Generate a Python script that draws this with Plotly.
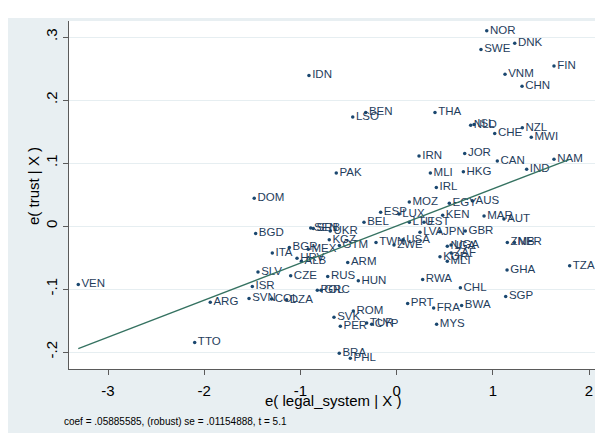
import plotly.graph_objects as go

countries = ["NOR","DNK","SWE","FIN","VNM","CHN","IDN","LSO","BEN","THA",
             "NLD","ISL","CHE","NZL","MWI","IRN","JOR","CAN","IND","NAM",
             "PAK","MLI","HKG","IRL","DOM","MOZ","EGY","AUS","ESP","LUX",
             "BEL","LTU","EST","KEN","MAR","AUT","BGD","SEN","SRB","UKR",
             "KGZ","LVA","JPN","GBR","TWN","USA","ZWE","NGA","UGA","ZMB",
             "NER","KOR","ZAF","MLT","BGR","MEX","ITA","HRV","ALB","GTM",
             "ARM","GHA","TZA","SLV","CZE","RUS","HUN","RWA","VEN","ISR",
             "POL","GRC","CHL","SGP","ARG","SVN","COL","DZA","PRT","FRA",
             "BWA","ROM","SVK","TUR","CYP","PER","MYS","TTO","BRA","PHL"]

e_legal = [0.937,1.228,0.877,1.636,1.127,1.304,-0.911,-0.456,-0.321,0.399,
           0.770,0.805,1.020,1.307,1.400,0.233,0.708,1.047,1.352,1.636,
           -0.627,0.351,0.694,0.413,-1.480,0.132,0.548,0.787,-0.166,0.025,
           -0.339,0.132,0.285,0.479,0.909,1.116,-1.465,-0.893,-0.866,-0.690,
           -0.700,0.243,0.450,0.714,-0.214,0.067,-0.027,0.527,0.566,1.151,
           1.225,0.451,0.567,0.527,-1.115,-0.918,-1.292,-1.035,-0.990,-0.595,
           -0.508,1.148,1.799,-1.441,-1.101,-0.716,-0.398,0.271,-3.309,-1.500,
           -0.824,-0.786,0.663,1.134,-1.937,-1.534,-1.300,-1.143,0.115,0.385,
           0.676,-0.450,-0.651,-0.311,-0.259,-0.585,0.416,-2.099,-0.596,-0.481]

e_trust = [0.310,0.290,0.280,0.254,0.241,0.222,0.239,0.173,0.180,0.180,
           0.160,0.161,0.147,0.156,0.141,0.111,0.115,0.103,0.090,0.106,
           0.084,0.084,0.086,0.061,0.044,0.038,0.036,0.040,0.022,0.019,
           0.006,0.006,0.006,0.017,0.016,0.011,-0.012,-0.003,-0.004,-0.008,
           -0.022,-0.010,-0.009,-0.008,-0.026,-0.022,-0.030,-0.032,-0.030,-0.026,
           -0.026,-0.049,-0.043,-0.056,-0.034,-0.037,-0.043,-0.051,-0.056,-0.031,
           -0.058,-0.070,-0.063,-0.073,-0.079,-0.080,-0.087,-0.085,-0.093,-0.096,
           -0.102,-0.102,-0.098,-0.112,-0.121,-0.115,-0.116,-0.117,-0.123,-0.130,
           -0.126,-0.135,-0.145,-0.154,-0.156,-0.159,-0.156,-0.185,-0.202,-0.210]

coef = 0.05885585
x_ticks = [-3, -2, -1, 0, 1, 2]
x_ticklabels = ["-3", "-2", "-1", "0", "1", "2"]
y_ticks = [-0.2, -0.1, 0, 0.1, 0.2, 0.3]
y_ticklabels = ["-.2", "-.1", "0", ".1", ".2", ".3"]
x_title = "e( legal_system | X )"
y_title = "e( trust | X )"
note = "coef = .05885585, (robust) se = .01154888, t = 5.1"

# page body has an 8px margin; internal coords = page coords - 8
OFF = 8
W, H = 603 - OFF, 441 - OFF
L, R, T, B = 69 - OFF, 598 - OFF, 21 - OFF, 369 - OFF
navy = "#1a476f"
bluegray = "#e8eff2"
font = "Liberation Sans, Arial, Helvetica, sans-serif"

fig = go.Figure()
fig.add_trace(go.Scatter(
    x=e_legal, y=e_trust, mode="markers+text", text=countries,
    textposition="middle right",
    textfont=dict(family=font, size=11.5, color="#1f3d5c"),
    marker=dict(size=3.5, color=navy), cliponaxis=False, hoverinfo="skip"))

xmin, xmax = min(e_legal), max(e_legal)
fig.add_trace(go.Scatter(
    x=[xmin, xmax], y=[coef * xmin, coef * xmax], mode="lines",
    line=dict(color="#357261", width=1.3), hoverinfo="skip"))

def px_x(p):
    return (p - OFF - L) / (R - L)

def px_y(p):
    return (B - (p - OFF)) / (B - T)

# white strips outside the graph region (top and bottom of the page)
fig.add_shape(type="rect", xref="paper", yref="paper",
              x0=px_x(0), x1=px_x(620), y0=px_y(18), y1=px_y(0),
              fillcolor="white", line=dict(width=0), layer="above")
fig.add_shape(type="rect", xref="paper", yref="paper",
              x0=px_x(0), x1=px_x(620), y0=px_y(450), y1=px_y(433),
              fillcolor="white", line=dict(width=0), layer="above")

fig.add_annotation(x=px_x(333), y=px_y(400), xref="paper", yref="paper",
                   text=x_title, showarrow=False, xanchor="center", yanchor="middle",
                   font=dict(family=font, size=15, color="black"))
fig.add_annotation(x=px_x(33), y=px_y(186), xref="paper", yref="paper",
                   text=y_title, showarrow=False, textangle=-90,
                   xanchor="center", yanchor="middle",
                   font=dict(family=font, size=15, color="black"))
fig.add_annotation(x=px_x(62), y=px_y(421), xref="paper", yref="paper",
                   text=note, showarrow=False, xanchor="left", yanchor="middle",
                   font=dict(family=font, size=10, color="black"))

fig.update_layout(
    width=W, height=H,
    margin=dict(l=L, r=W - R, t=T, b=H - B, pad=0, autoexpand=False),
    paper_bgcolor=bluegray, plot_bgcolor="white",
    showlegend=False,
    xaxis=dict(range=[(69 - 396.6) / 96.2, (598 - 396.6) / 96.2],
               tickvals=x_ticks, ticktext=x_ticklabels,
               ticks="outside", ticklen=5, tickcolor="#5a5a5a", tickwidth=1.2,
               showline=True, linecolor="#5a5a5a", linewidth=1.4,
               showgrid=False, zeroline=False, automargin=False,
               ticklabelstandoff=3,
               tickfont=dict(family=font, size=15, color="black")),
    yaxis=dict(range=[(226 - 369) / 630, (226 - 21) / 630],
               tickvals=y_ticks, ticktext=y_ticklabels, tickangle=-90,
               ticks="outside", ticklen=5, tickcolor="#5a5a5a", tickwidth=1.2,
               showline=True, linecolor="#5a5a5a", linewidth=1.4,
               showgrid=True, gridcolor="#e6eef1", gridwidth=1,
               zeroline=False, automargin=False, ticklabelstandoff=0,
               tickfont=dict(family=font, size=15, color="black")),
)

fig.write_html("out.html")
